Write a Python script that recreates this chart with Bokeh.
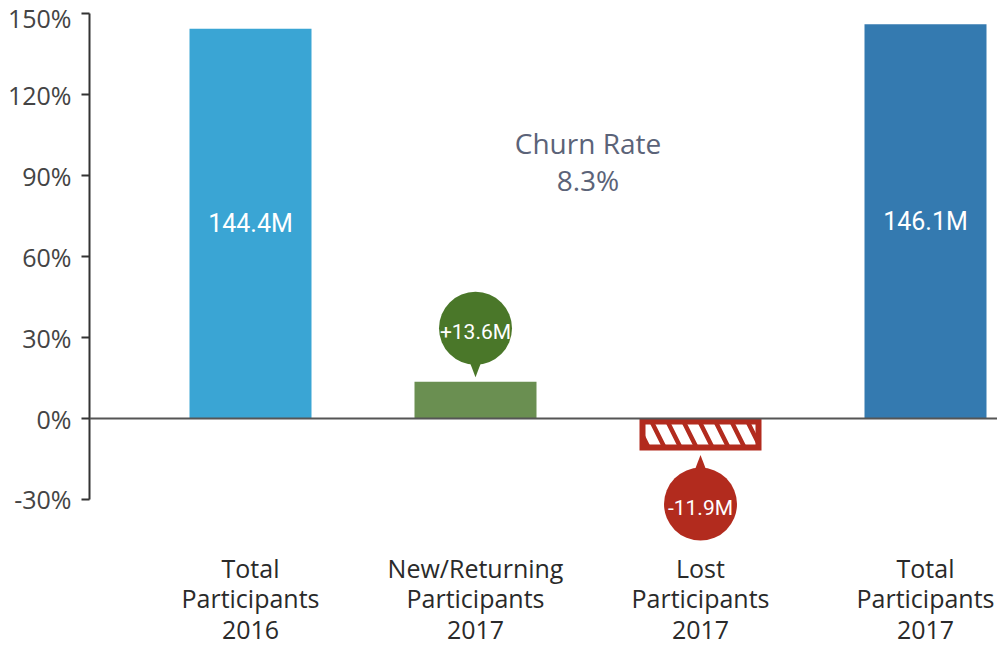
from bokeh.plotting import figure
from bokeh.models import Range1d, FixedTicker, PrintfTickFormatter, Span, ColumnDataSource
from bokeh.core.properties import value
from bokeh.embed import file_html
from bokeh.resources import INLINE

# ---------------- data ----------------
categories = ["Total\nParticipants\n2016", "New/Returning\nParticipants\n2017",
              "Lost\nParticipants\n2017", "Total\nParticipants\n2017"]
bar_values = [144.4, 13.6, -11.9, 146.1]
bar_labels = ["144.4M", "+13.6M", "-11.9M", "146.1M"]
y_ticks = [-30, 0, 30, 60, 90, 120, 150]
churn_title = "Churn Rate"
churn_value = "8.3%"

# ---------------- layout constants (pixels) ----------------
W, H = 997, 648
LEFT = 89            # frame left edge inside the figure
ZERO_FIG = 418       # pixel row of the 0 line inside the figure
PX_PER_UNIT = 2.699
CAT_PX = 225         # spacing between category centres
FIRST_CAT_PX = 161   # first category centre from frame left
BAR_W = 122 / CAT_PX
LOST_LINE = 6
CAT_LABEL_PX = 132   # top of category labels below the zero line

frame_w = W - LEFT
y1 = ZERO_FIG / PX_PER_UNIT
y0 = -(H - ZERO_FIG) / PX_PER_UNIT
x0 = -FIRST_CAT_PX / CAT_PX
x1 = (frame_w - FIRST_CAT_PX) / CAT_PX


def py(px):
    return px / PX_PER_UNIT


def pxx(px):
    return px / CAT_PX


C_BLUE_L = "#3AA5D4"
C_BLUE_D = "#347AB0"
C_GREEN = "#6A8F51"
C_GREEN_D = "#4A7729"
C_RED = "#B22B1E"

p = figure(width=W, height=H, x_range=Range1d(x0, x1), y_range=Range1d(y0, y1),
           output_backend="svg", toolbar_location=None, x_axis_location=None,
           min_border_left=LEFT, min_border_right=0, min_border_top=0, min_border_bottom=0)
p.outline_line_color = None
p.grid.visible = False
p.background_fill_color = "white"
p.border_fill_color = "white"

xs = list(range(len(categories)))

# ---- solid bars (totals + new) ----
solid_idx = [0, 1, 3]
solid_colors = [C_BLUE_L, C_GREEN, C_BLUE_D]
src = ColumnDataSource(dict(x=[xs[i] for i in solid_idx],
                            top=[bar_values[i] for i in solid_idx],
                            color=solid_colors))
p.vbar(x="x", top="top", bottom=0, width=BAR_W, fill_color="color", line_color=None, source=src)

# ---- lost bar: red frame with hatch ----
lv = bar_values[2]
half = py(LOST_LINE / 2)
p.vbar(x=[xs[2]], top=[-half], bottom=[lv + half], width=BAR_W - pxx(LOST_LINE),
       fill_color="white", line_color=C_RED, line_width=LOST_LINE, line_join="miter",
       hatch_pattern="\\", hatch_color=C_RED, hatch_scale=32, hatch_weight=4.5)

# ---- zero line ----
p.add_layout(Span(location=0, dimension="width", line_color="#555555", line_width=2))

# ---- labels inside total bars ----
tot_idx = [0, 3]
p.text(x=[xs[i] for i in tot_idx], y=[bar_values[i] / 2 for i in tot_idx],
       text=[bar_labels[i] for i in tot_idx], text_align="center", text_baseline="middle",
       text_color="white", text_font=value("Roboto"), text_font_size="25px")

# ---- bubbles ----
R = 36.5
TIP_GAP = 4.5
for i, col in [(1, C_GREEN_D), (2, C_RED)]:
    v = bar_values[i]
    s = 1 if v > 0 else -1
    tip = v + s * py(TIP_GAP)
    cy = tip + s * py(49)
    base = cy - s * py(28)
    hw = pxx(8)
    p.patches(xs=[[xs[i] - hw, xs[i] + hw, xs[i]]], ys=[[base, base, tip]],
              fill_color=col, line_color=None)
    p.scatter(x=[xs[i]], y=[cy], size=2 * R, marker="circle", fill_color=col, line_color=None)
    p.text(x=[xs[i]], y=[cy - py(3.5)], text=[bar_labels[i]], text_align="center",
           text_baseline="middle", text_color="white", text_font=value("Roboto"),
           text_font_size="21px")

# ---- churn annotation ----
p.text(x=[1.5, 1.5], y=[101.9, 88.5], text=[churn_title, churn_value], text_align="center",
       text_baseline="middle", text_color="#5B6378", text_font=value("Open Sans"),
       text_font_size="28px")

# ---- category labels ----
p.text(x=xs, y=[-py(CAT_LABEL_PX)] * len(xs), text=categories, text_align="center",
       text_baseline="top", text_color="#2a2a2a", text_font=value("Open Sans"),
       text_font_size="25px", text_line_height=0.9)

# ---- y axis ----
ax = p.yaxis[0]
ax.ticker = FixedTicker(ticks=y_ticks)
ax.formatter = PrintfTickFormatter(format="%d%%")
ax.bounds = (min(y_ticks), max(y_ticks))
ax.axis_line_color = "#333333"
ax.axis_line_width = 2
ax.major_tick_line_color = "#333333"
ax.major_tick_line_width = 2
ax.major_tick_out = 8
ax.major_tick_in = 0
ax.minor_tick_line_color = None
ax.major_label_standoff = 10
ax.major_label_text_font = "Open Sans"
ax.major_label_text_font_size = "25px"
ax.major_label_text_color = "#444444"

open("out.html", "w").write(file_html(p, INLINE))
